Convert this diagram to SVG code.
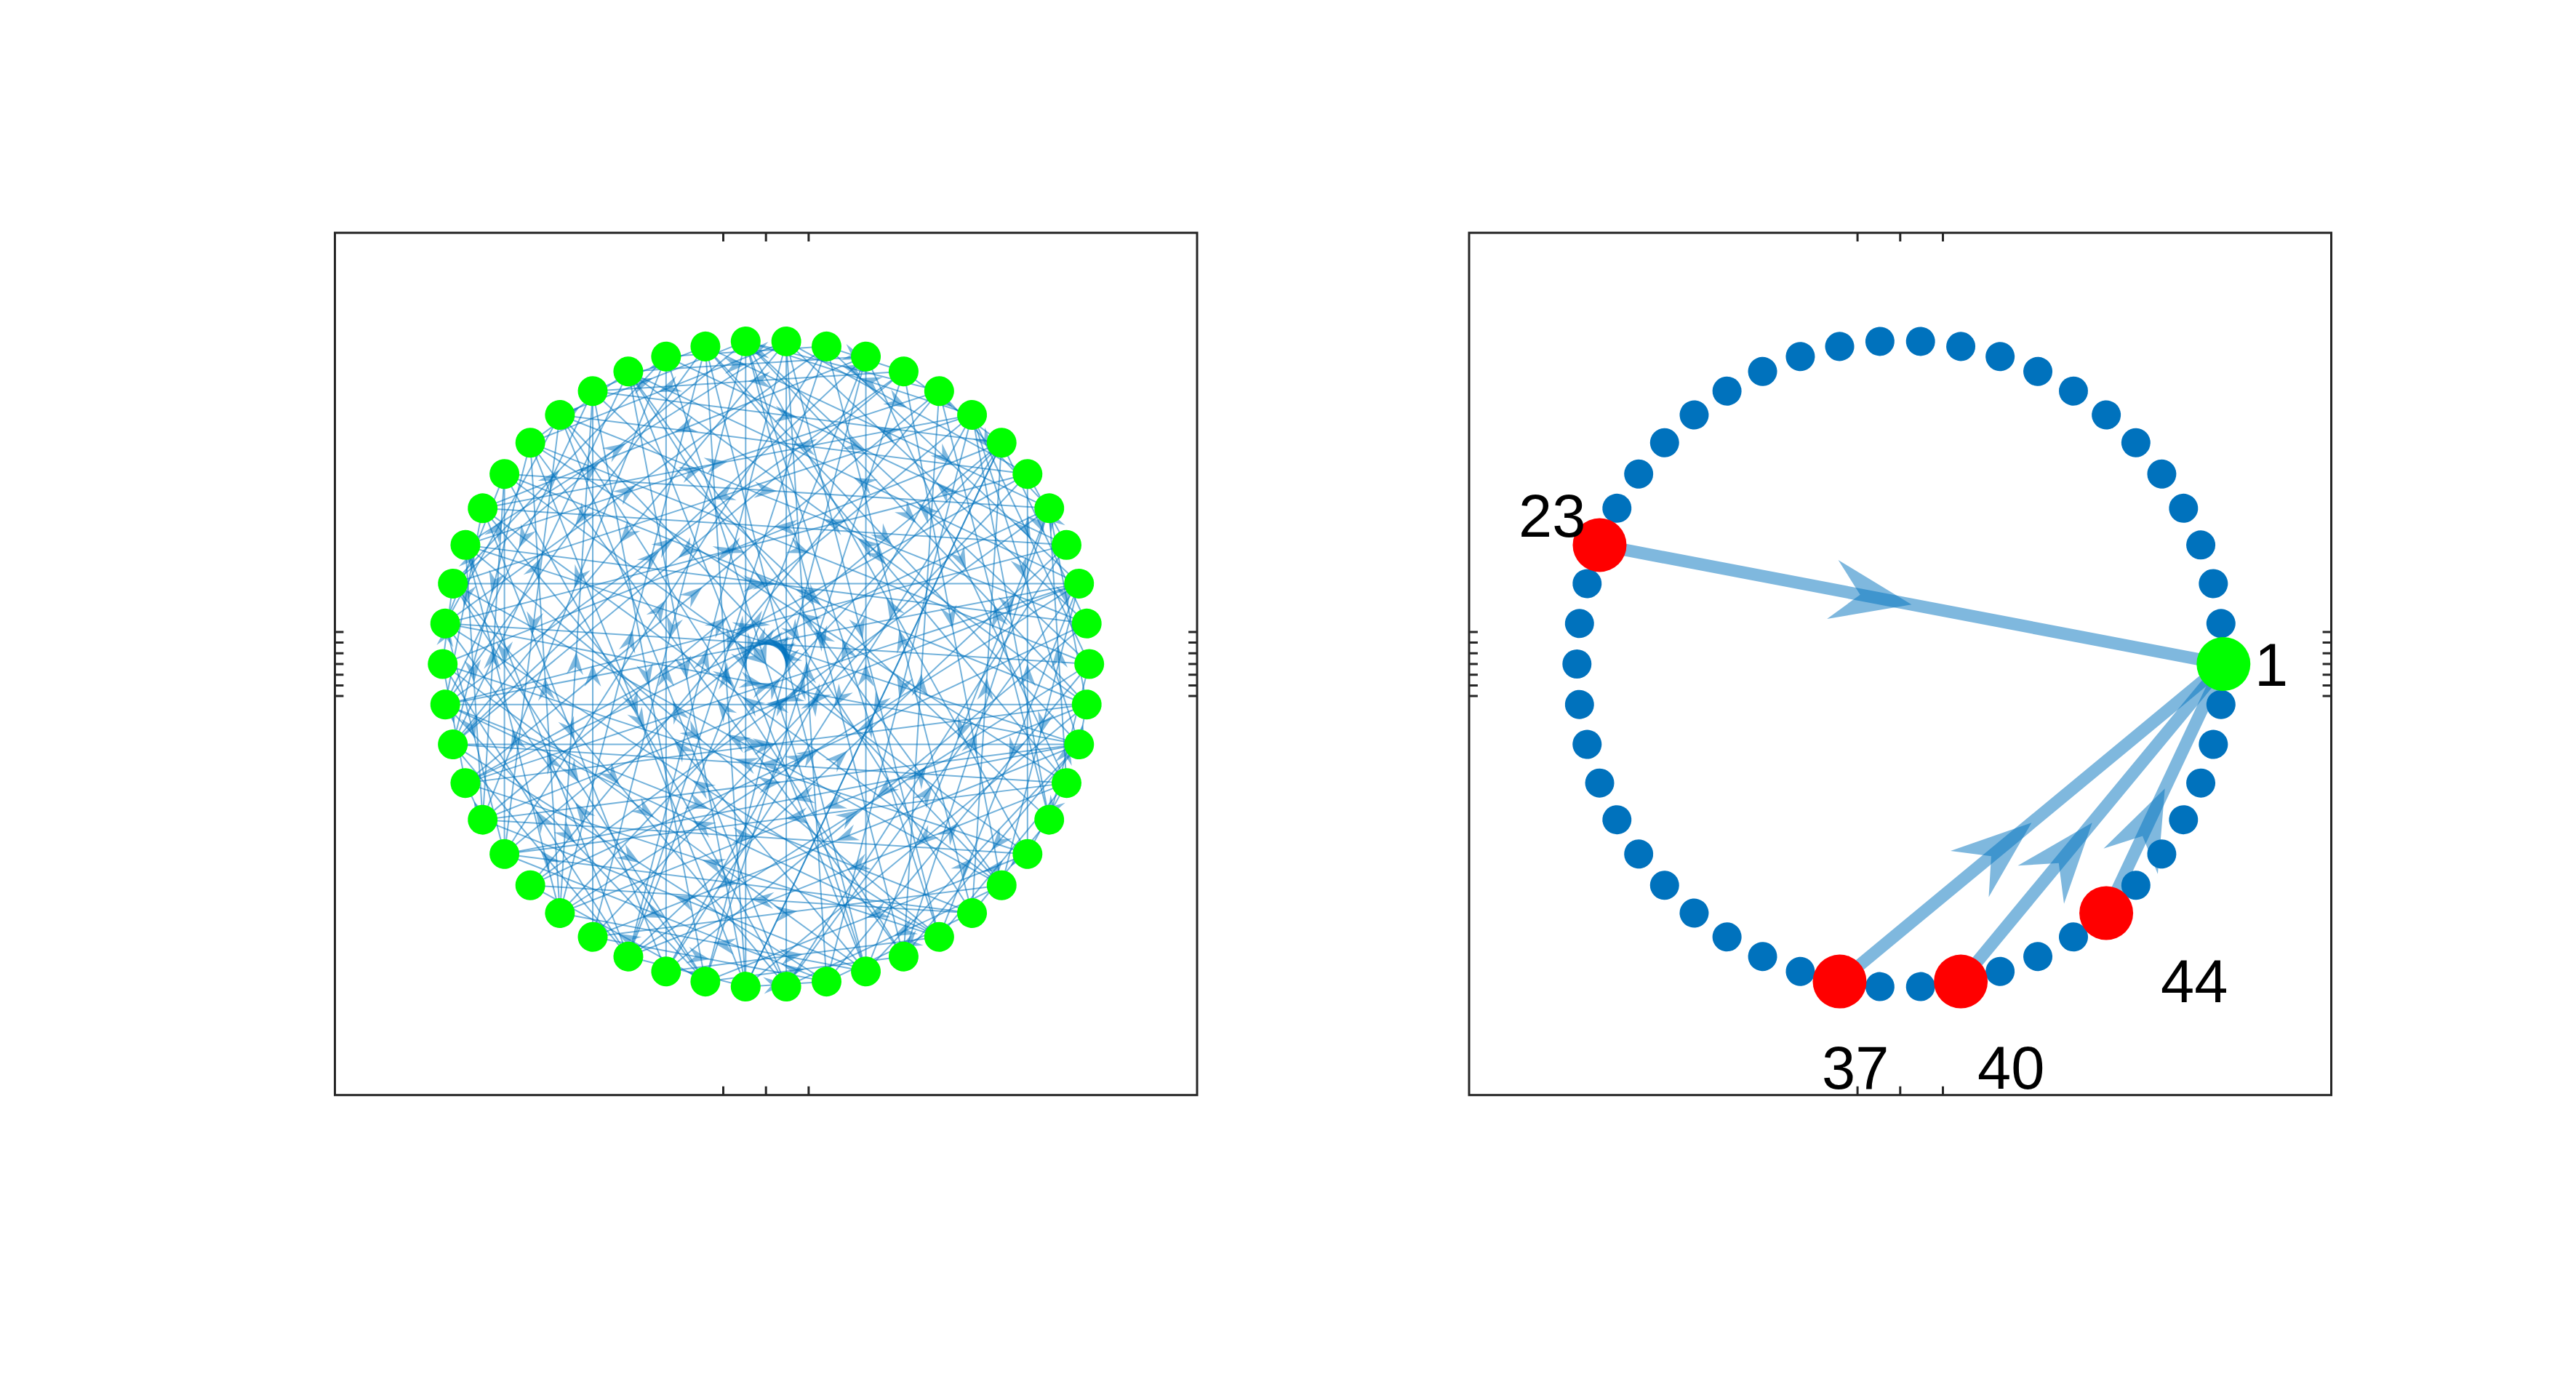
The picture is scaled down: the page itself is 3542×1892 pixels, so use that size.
<svg xmlns="http://www.w3.org/2000/svg" xmlns:xlink="http://www.w3.org/1999/xlink" width="3542" height="1892" viewBox="0 0 3542 1892">
<style>
.ax{fill:none;stroke:#262626;stroke-width:3}
.tk{fill:none;stroke:#262626;stroke-width:3}
.e{stroke:#0072BD;stroke-opacity:.55;stroke-width:2;fill:none}
.h{fill:#0072BD;fill-opacity:.5;stroke:none}
.g{fill:#00FF00}
.b{fill:#0072BD}
.r{fill:#FF0000}
.E{stroke:#0072BD;stroke-opacity:.5;stroke-width:17;fill:none}
.H{fill:#0072BD;fill-opacity:.5;stroke:none}
.t{font-family:"Liberation Sans",Arial,Helvetica,sans-serif;font-size:83px;fill:#000}
</style>
<defs>
<path id="hu" class="h" d="M0,0 L11.5,31 L0,20 L-11.5,31 Z"/>
<path id="hd" class="h" d="M0,0 L11.5,-31 L0,-20 L-11.5,-31 Z"/>
<polygon id="HA" class="H" points="0,0 -110.5,-41.2 -72,0 -110.5,41.2"/>
<g id="a1" transform="rotate(-3.6)"><line class="e" x1="443.62" y1="27.91" x2="443.62" y2="-27.91"/><use href="#hu" x="443.62"/></g>
<g id="b1" transform="rotate(-3.6)"><line class="e" x1="443.62" y1="27.91" x2="443.62" y2="-27.91"/><use href="#hd" x="443.62"/></g>
<g id="a2" transform="rotate(-7.2)"><line class="e" x1="441" y1="55.71" x2="441" y2="-55.71"/><use href="#hu" x="441"/></g>
<g id="b2" transform="rotate(-7.2)"><line class="e" x1="441" y1="55.71" x2="441" y2="-55.71"/><use href="#hd" x="441"/></g>
<g id="a3" transform="rotate(-10.8)"><line class="e" x1="436.63" y1="83.29" x2="436.63" y2="-83.29"/><use href="#hu" x="436.63"/></g>
<g id="b3" transform="rotate(-10.8)"><line class="e" x1="436.63" y1="83.29" x2="436.63" y2="-83.29"/><use href="#hd" x="436.63"/></g>
<g id="a4" transform="rotate(-14.4)"><line class="e" x1="430.54" y1="110.54" x2="430.54" y2="-110.54"/><use href="#hu" x="430.54"/></g>
<g id="b4" transform="rotate(-14.4)"><line class="e" x1="430.54" y1="110.54" x2="430.54" y2="-110.54"/><use href="#hd" x="430.54"/></g>
<g id="a5" transform="rotate(-18)"><line class="e" x1="422.74" y1="137.36" x2="422.74" y2="-137.36"/><use href="#hu" x="422.74"/></g>
<g id="b5" transform="rotate(-18)"><line class="e" x1="422.74" y1="137.36" x2="422.74" y2="-137.36"/><use href="#hd" x="422.74"/></g>
<g id="a6" transform="rotate(-21.6)"><line class="e" x1="413.28" y1="163.63" x2="413.28" y2="-163.63"/><use href="#hu" x="413.28"/></g>
<g id="b6" transform="rotate(-21.6)"><line class="e" x1="413.28" y1="163.63" x2="413.28" y2="-163.63"/><use href="#hd" x="413.28"/></g>
<g id="a7" transform="rotate(-25.2)"><line class="e" x1="402.2" y1="189.26" x2="402.2" y2="-189.26"/><use href="#hu" x="402.2"/></g>
<g id="b7" transform="rotate(-25.2)"><line class="e" x1="402.2" y1="189.26" x2="402.2" y2="-189.26"/><use href="#hd" x="402.2"/></g>
<g id="a8" transform="rotate(-28.8)"><line class="e" x1="389.52" y1="214.14" x2="389.52" y2="-214.14"/><use href="#hu" x="389.52"/></g>
<g id="b8" transform="rotate(-28.8)"><line class="e" x1="389.52" y1="214.14" x2="389.52" y2="-214.14"/><use href="#hd" x="389.52"/></g>
<g id="a9" transform="rotate(-32.4)"><line class="e" x1="375.3" y1="238.17" x2="375.3" y2="-238.17"/><use href="#hu" x="375.3"/></g>
<g id="b9" transform="rotate(-32.4)"><line class="e" x1="375.3" y1="238.17" x2="375.3" y2="-238.17"/><use href="#hd" x="375.3"/></g>
<g id="a10" transform="rotate(-36)"><line class="e" x1="359.6" y1="261.27" x2="359.6" y2="-261.27"/><use href="#hu" x="359.6"/></g>
<g id="b10" transform="rotate(-36)"><line class="e" x1="359.6" y1="261.27" x2="359.6" y2="-261.27"/><use href="#hd" x="359.6"/></g>
<g id="a11" transform="rotate(-39.6)"><line class="e" x1="342.49" y1="283.34" x2="342.49" y2="-283.34"/><use href="#hu" x="342.49"/></g>
<g id="b11" transform="rotate(-39.6)"><line class="e" x1="342.49" y1="283.34" x2="342.49" y2="-283.34"/><use href="#hd" x="342.49"/></g>
<g id="a12" transform="rotate(-43.2)"><line class="e" x1="324.03" y1="304.28" x2="324.03" y2="-304.28"/><use href="#hu" x="324.03"/></g>
<g id="b12" transform="rotate(-43.2)"><line class="e" x1="324.03" y1="304.28" x2="324.03" y2="-304.28"/><use href="#hd" x="324.03"/></g>
<g id="a13" transform="rotate(-46.8)"><line class="e" x1="304.28" y1="324.03" x2="304.28" y2="-324.03"/><use href="#hu" x="304.28"/></g>
<g id="b13" transform="rotate(-46.8)"><line class="e" x1="304.28" y1="324.03" x2="304.28" y2="-324.03"/><use href="#hd" x="304.28"/></g>
<g id="a14" transform="rotate(-50.4)"><line class="e" x1="283.34" y1="342.49" x2="283.34" y2="-342.49"/><use href="#hu" x="283.34"/></g>
<g id="b14" transform="rotate(-50.4)"><line class="e" x1="283.34" y1="342.49" x2="283.34" y2="-342.49"/><use href="#hd" x="283.34"/></g>
<g id="a15" transform="rotate(-54)"><line class="e" x1="261.27" y1="359.6" x2="261.27" y2="-359.6"/><use href="#hu" x="261.27"/></g>
<g id="b15" transform="rotate(-54)"><line class="e" x1="261.27" y1="359.6" x2="261.27" y2="-359.6"/><use href="#hd" x="261.27"/></g>
<g id="a16" transform="rotate(-57.6)"><line class="e" x1="238.17" y1="375.3" x2="238.17" y2="-375.3"/><use href="#hu" x="238.17"/></g>
<g id="b16" transform="rotate(-57.6)"><line class="e" x1="238.17" y1="375.3" x2="238.17" y2="-375.3"/><use href="#hd" x="238.17"/></g>
<g id="a17" transform="rotate(-61.2)"><line class="e" x1="214.14" y1="389.52" x2="214.14" y2="-389.52"/><use href="#hu" x="214.14"/></g>
<g id="b17" transform="rotate(-61.2)"><line class="e" x1="214.14" y1="389.52" x2="214.14" y2="-389.52"/><use href="#hd" x="214.14"/></g>
<g id="a18" transform="rotate(-64.8)"><line class="e" x1="189.26" y1="402.2" x2="189.26" y2="-402.2"/><use href="#hu" x="189.26"/></g>
<g id="b18" transform="rotate(-64.8)"><line class="e" x1="189.26" y1="402.2" x2="189.26" y2="-402.2"/><use href="#hd" x="189.26"/></g>
<g id="a19" transform="rotate(-68.4)"><line class="e" x1="163.63" y1="413.28" x2="163.63" y2="-413.28"/><use href="#hu" x="163.63"/></g>
<g id="b19" transform="rotate(-68.4)"><line class="e" x1="163.63" y1="413.28" x2="163.63" y2="-413.28"/><use href="#hd" x="163.63"/></g>
<g id="a20" transform="rotate(-72)"><line class="e" x1="137.36" y1="422.74" x2="137.36" y2="-422.74"/><use href="#hu" x="137.36"/></g>
<g id="b20" transform="rotate(-72)"><line class="e" x1="137.36" y1="422.74" x2="137.36" y2="-422.74"/><use href="#hd" x="137.36"/></g>
<g id="a21" transform="rotate(-75.6)"><line class="e" x1="110.54" y1="430.54" x2="110.54" y2="-430.54"/><use href="#hu" x="110.54"/></g>
<g id="b21" transform="rotate(-75.6)"><line class="e" x1="110.54" y1="430.54" x2="110.54" y2="-430.54"/><use href="#hd" x="110.54"/></g>
<g id="a22" transform="rotate(-79.2)"><line class="e" x1="83.29" y1="436.63" x2="83.29" y2="-436.63"/><use href="#hu" x="83.29"/></g>
<g id="b22" transform="rotate(-79.2)"><line class="e" x1="83.29" y1="436.63" x2="83.29" y2="-436.63"/><use href="#hd" x="83.29"/></g>
<g id="a23" transform="rotate(-82.8)"><line class="e" x1="55.71" y1="441" x2="55.71" y2="-441"/><use href="#hu" x="55.71"/></g>
<g id="b23" transform="rotate(-82.8)"><line class="e" x1="55.71" y1="441" x2="55.71" y2="-441"/><use href="#hd" x="55.71"/></g>
<g id="a24" transform="rotate(-86.4)"><line class="e" x1="27.91" y1="443.62" x2="27.91" y2="-443.62"/><use href="#hu" x="27.91"/></g>
<g id="b24" transform="rotate(-86.4)"><line class="e" x1="27.91" y1="443.62" x2="27.91" y2="-443.62"/><use href="#hd" x="27.91"/></g>
<g id="a25" transform="rotate(-90)"><line class="e" x1="0" y1="444.5" x2="0" y2="-444.5"/><use href="#hu" x="0"/></g>
<g id="b25" transform="rotate(-90)"><line class="e" x1="0" y1="444.5" x2="0" y2="-444.5"/><use href="#hd" x="0"/></g>
</defs>
<rect width="3542" height="1892" fill="#fff"/>

<!-- LEFT AXES -->
<g id="axes-left">
<rect class="ax" x="460.5" y="320.1" width="1185.5" height="1185.6"/>
<path class="tk" d="M994.5,320.1v11.9M1053.2,320.1v11.9M1111.9,320.1v11.9M994.5,1505.7v-11.9M1053.2,1505.7v-11.9M1111.9,1505.7v-11.9M460.5,868.9h11.9M460.5,883.6h11.9M460.5,898.3h11.9M460.5,913h11.9M460.5,927.7h11.9M460.5,942.4h11.9M460.5,957.1h11.9M1646,868.9h-11.9M1646,883.6h-11.9M1646,898.3h-11.9M1646,913h-11.9M1646,927.7h-11.9M1646,942.4h-11.9M1646,957.1h-11.9"/>
</g>

<g id="connectors-left" transform="translate(1053.2,913)">
<g transform="rotate(0)"><use href="#a24"/><use href="#b7"/><use href="#a13"/><use href="#b19"/></g>
<g transform="rotate(-7.2)"><use href="#b21"/><use href="#a11"/><use href="#a17"/><use href="#b5"/></g>
<g transform="rotate(-14.4)"><use href="#a24"/><use href="#b9"/><use href="#a14"/><use href="#b21"/></g>
<g transform="rotate(-21.6)"><use href="#b23"/><use href="#a2"/><use href="#a18"/><use href="#b12"/></g>
<g transform="rotate(-28.8)"><use href="#a24"/><use href="#b16"/><use href="#a10"/><use href="#b4"/></g>
<g transform="rotate(-36)"><use href="#b19"/><use href="#a13"/><use href="#a23"/><use href="#b7"/></g>
<g transform="rotate(-43.2)"><use href="#a19"/><use href="#b3"/><use href="#a24"/><use href="#b11"/></g>
<g transform="rotate(-50.4)"><use href="#b22"/><use href="#a6"/><use href="#a16"/><use href="#b14"/></g>
<g transform="rotate(-57.6)"><use href="#a23"/><use href="#b14"/><use href="#a5"/><use href="#b20"/></g>
<g transform="rotate(-64.8)"><use href="#b17"/><use href="#a8"/><use href="#a18"/><use href="#b2"/></g>
<g transform="rotate(-72)"><use href="#a24"/><use href="#b17"/><use href="#a11"/><use href="#b6"/></g>
<g transform="rotate(-79.2)"><use href="#b19"/><use href="#a4"/><use href="#a23"/><use href="#b13"/></g>
<g transform="rotate(-86.4)"><use href="#a15"/><use href="#b10"/><use href="#a7"/><use href="#b22"/></g>
<g transform="rotate(-93.6)"><use href="#b10"/><use href="#a24"/><use href="#a20"/><use href="#b5"/></g>
<g transform="rotate(-100.8)"><use href="#a12"/><use href="#b23"/><use href="#a3"/><use href="#b18"/></g>
<g transform="rotate(-108)"><use href="#b8"/><use href="#a25"/><use href="#a14"/><use href="#b20"/></g>
<g transform="rotate(-115.2)"><use href="#a21"/><use href="#b11"/><use href="#a24"/><use href="#b3"/></g>
<g transform="rotate(-122.4)"><use href="#b16"/><use href="#a9"/><use href="#a19"/><use href="#b15"/></g>
<g transform="rotate(-129.6)"><use href="#a23"/><use href="#b6"/><use href="#a12"/><use href="#b20"/></g>
<g transform="rotate(-136.8)"><use href="#b13"/><use href="#a18"/><use href="#a8"/><use href="#b22"/></g>
<g transform="rotate(-144)"><use href="#a18"/><use href="#b9"/><use href="#a10"/><use href="#b4"/></g>
<g transform="rotate(-151.2)"><use href="#b23"/><use href="#a14"/><use href="#a5"/><use href="#b19"/></g>
<g transform="rotate(-158.4)"><use href="#a7"/><use href="#b12"/><use href="#a20"/><use href="#b10"/></g>
<g transform="rotate(-165.6)"><use href="#b2"/><use href="#a15"/><use href="#a13"/><use href="#b21"/></g>
<g transform="rotate(-172.8)"><use href="#a24"/><use href="#b18"/><use href="#a6"/><use href="#b12"/></g>
<g transform="rotate(-180)"><use href="#b20"/><use href="#a15"/><use href="#a3"/><use href="#b9"/></g>
<g transform="rotate(-187.2)"><use href="#a10"/><use href="#b23"/><use href="#a17"/><use href="#b16"/></g>
<g transform="rotate(-194.4)"><use href="#b20"/><use href="#a21"/><use href="#a12"/><use href="#b7"/></g>
<g transform="rotate(-201.6)"><use href="#a24"/><use href="#b1"/><use href="#a21"/><use href="#b14"/></g>
<g transform="rotate(-208.8)"><use href="#b11"/><use href="#a19"/><use href="#a16"/><use href="#b23"/></g>
<g transform="rotate(-216)"><use href="#a13"/><use href="#b17"/><use href="#a9"/><use href="#b18"/></g>
<g transform="rotate(-223.2)"><use href="#b5"/><use href="#a23"/><use href="#a20"/><use href="#b12"/></g>
<g transform="rotate(-230.4)"><use href="#a20"/><use href="#b8"/><use href="#a24"/><use href="#b17"/></g>
<g transform="rotate(-237.6)"><use href="#b15"/><use href="#a11"/><use href="#a6"/><use href="#b22"/></g>
<g transform="rotate(-244.8)"><use href="#a16"/><use href="#b13"/><use href="#a19"/><use href="#b3"/></g>
<g transform="rotate(-252)"><use href="#b16"/><use href="#a22"/><use href="#a7"/><use href="#b21"/></g>
<g transform="rotate(-259.2)"><use href="#a5"/><use href="#b24"/><use href="#a23"/><use href="#b9"/></g>
<g transform="rotate(-266.4)"><use href="#b12"/><use href="#a19"/><use href="#a2"/><use href="#b19"/></g>
<g transform="rotate(-273.6)"><use href="#a14"/><use href="#b6"/><use href="#a15"/><use href="#b24"/></g>
<g transform="rotate(-280.8)"><use href="#b18"/><use href="#a23"/><use href="#a11"/><use href="#b4"/></g>
<g transform="rotate(-288)"><use href="#a8"/><use href="#b24"/><use href="#a20"/><use href="#b14"/></g>
<g transform="rotate(-295.2)"><use href="#b22"/><use href="#a17"/><use href="#a13"/><use href="#b7"/></g>
<g transform="rotate(-302.4)"><use href="#a21"/><use href="#b10"/><use href="#a5"/><use href="#b20"/></g>
<g transform="rotate(-309.6)"><use href="#b3"/><use href="#a18"/><use href="#a13"/><use href="#b23"/></g>
<g transform="rotate(-316.8)"><use href="#a22"/><use href="#b15"/><use href="#a24"/><use href="#b8"/></g>
<g transform="rotate(-324)"><use href="#b25"/><use href="#a10"/><use href="#a18"/><use href="#b2"/></g>
<g transform="rotate(-331.2)"><use href="#a4"/><use href="#b21"/><use href="#a12"/><use href="#b11"/></g>
<g transform="rotate(-338.4)"><use href="#b17"/><use href="#a7"/><use href="#a22"/><use href="#b13"/></g>
<g transform="rotate(-345.6)"><use href="#a24"/><use href="#b9"/><use href="#a1"/><use href="#b16"/></g>
<g transform="rotate(-352.8)"><use href="#b14"/><use href="#a17"/><use href="#a21"/><use href="#b5"/></g>
</g>

<g id="nodes-left" transform="translate(1053.2,913)">
<g id="L1"><circle class="g" cx="444.5" cy="0" r="20.5"/></g>
<g id="L2"><circle class="g" cx="444.5" cy="0" r="20.5" transform="rotate(-7.2)"/></g>
<g id="L3"><circle class="g" cx="444.5" cy="0" r="20.5" transform="rotate(-14.4)"/></g>
<g id="L4"><circle class="g" cx="444.5" cy="0" r="20.5" transform="rotate(-21.6)"/></g>
<g id="L5"><circle class="g" cx="444.5" cy="0" r="20.5" transform="rotate(-28.8)"/></g>
<g id="L6"><circle class="g" cx="444.5" cy="0" r="20.5" transform="rotate(-36)"/></g>
<g id="L7"><circle class="g" cx="444.5" cy="0" r="20.5" transform="rotate(-43.2)"/></g>
<g id="L8"><circle class="g" cx="444.5" cy="0" r="20.5" transform="rotate(-50.4)"/></g>
<g id="L9"><circle class="g" cx="444.5" cy="0" r="20.5" transform="rotate(-57.6)"/></g>
<g id="L10"><circle class="g" cx="444.5" cy="0" r="20.5" transform="rotate(-64.8)"/></g>
<g id="L11"><circle class="g" cx="444.5" cy="0" r="20.5" transform="rotate(-72)"/></g>
<g id="L12"><circle class="g" cx="444.5" cy="0" r="20.5" transform="rotate(-79.2)"/></g>
<g id="L13"><circle class="g" cx="444.5" cy="0" r="20.5" transform="rotate(-86.4)"/></g>
<g id="L14"><circle class="g" cx="444.5" cy="0" r="20.5" transform="rotate(-93.6)"/></g>
<g id="L15"><circle class="g" cx="444.5" cy="0" r="20.5" transform="rotate(-100.8)"/></g>
<g id="L16"><circle class="g" cx="444.5" cy="0" r="20.5" transform="rotate(-108)"/></g>
<g id="L17"><circle class="g" cx="444.5" cy="0" r="20.5" transform="rotate(-115.2)"/></g>
<g id="L18"><circle class="g" cx="444.5" cy="0" r="20.5" transform="rotate(-122.4)"/></g>
<g id="L19"><circle class="g" cx="444.5" cy="0" r="20.5" transform="rotate(-129.6)"/></g>
<g id="L20"><circle class="g" cx="444.5" cy="0" r="20.5" transform="rotate(-136.8)"/></g>
<g id="L21"><circle class="g" cx="444.5" cy="0" r="20.5" transform="rotate(-144)"/></g>
<g id="L22"><circle class="g" cx="444.5" cy="0" r="20.5" transform="rotate(-151.2)"/></g>
<g id="L23"><circle class="g" cx="444.5" cy="0" r="20.5" transform="rotate(-158.4)"/></g>
<g id="L24"><circle class="g" cx="444.5" cy="0" r="20.5" transform="rotate(-165.6)"/></g>
<g id="L25"><circle class="g" cx="444.5" cy="0" r="20.5" transform="rotate(-172.8)"/></g>
<g id="L26"><circle class="g" cx="444.5" cy="0" r="20.5" transform="rotate(-180)"/></g>
<g id="L27"><circle class="g" cx="444.5" cy="0" r="20.5" transform="rotate(-187.2)"/></g>
<g id="L28"><circle class="g" cx="444.5" cy="0" r="20.5" transform="rotate(-194.4)"/></g>
<g id="L29"><circle class="g" cx="444.5" cy="0" r="20.5" transform="rotate(-201.6)"/></g>
<g id="L30"><circle class="g" cx="444.5" cy="0" r="20.5" transform="rotate(-208.8)"/></g>
<g id="L31"><circle class="g" cx="444.5" cy="0" r="20.5" transform="rotate(-216)"/></g>
<g id="L32"><circle class="g" cx="444.5" cy="0" r="20.5" transform="rotate(-223.2)"/></g>
<g id="L33"><circle class="g" cx="444.5" cy="0" r="20.5" transform="rotate(-230.4)"/></g>
<g id="L34"><circle class="g" cx="444.5" cy="0" r="20.5" transform="rotate(-237.6)"/></g>
<g id="L35"><circle class="g" cx="444.5" cy="0" r="20.5" transform="rotate(-244.8)"/></g>
<g id="L36"><circle class="g" cx="444.5" cy="0" r="20.5" transform="rotate(-252)"/></g>
<g id="L37"><circle class="g" cx="444.5" cy="0" r="20.5" transform="rotate(-259.2)"/></g>
<g id="L38"><circle class="g" cx="444.5" cy="0" r="20.5" transform="rotate(-266.4)"/></g>
<g id="L39"><circle class="g" cx="444.5" cy="0" r="20.5" transform="rotate(-273.6)"/></g>
<g id="L40"><circle class="g" cx="444.5" cy="0" r="20.5" transform="rotate(-280.8)"/></g>
<g id="L41"><circle class="g" cx="444.5" cy="0" r="20.5" transform="rotate(-288)"/></g>
<g id="L42"><circle class="g" cx="444.5" cy="0" r="20.5" transform="rotate(-295.2)"/></g>
<g id="L43"><circle class="g" cx="444.5" cy="0" r="20.5" transform="rotate(-302.4)"/></g>
<g id="L44"><circle class="g" cx="444.5" cy="0" r="20.5" transform="rotate(-309.6)"/></g>
<g id="L45"><circle class="g" cx="444.5" cy="0" r="20.5" transform="rotate(-316.8)"/></g>
<g id="L46"><circle class="g" cx="444.5" cy="0" r="20.5" transform="rotate(-324)"/></g>
<g id="L47"><circle class="g" cx="444.5" cy="0" r="20.5" transform="rotate(-331.2)"/></g>
<g id="L48"><circle class="g" cx="444.5" cy="0" r="20.5" transform="rotate(-338.4)"/></g>
<g id="L49"><circle class="g" cx="444.5" cy="0" r="20.5" transform="rotate(-345.6)"/></g>
<g id="L50"><circle class="g" cx="444.5" cy="0" r="20.5" transform="rotate(-352.8)"/></g>
</g>

<!-- RIGHT AXES -->
<g id="axes-right">
<rect class="ax" x="2020" y="320.1" width="1185.5" height="1185.6"/>
<path class="tk" d="M2554.1,320.1v11.9M2612.8,320.1v11.9M2671.5,320.1v11.9M2554.1,1505.7v-11.9M2612.8,1505.7v-11.9M2671.5,1505.7v-11.9M2020,868.9h11.9M2020,883.6h11.9M2020,898.3h11.9M2020,913h11.9M2020,927.7h11.9M2020,942.4h11.9M2020,957.1h11.9M3205.5,868.9h-11.9M3205.5,883.6h-11.9M3205.5,898.3h-11.9M3205.5,913h-11.9M3205.5,927.7h-11.9M3205.5,942.4h-11.9M3205.5,957.1h-11.9"/>
</g>

<g id="connectors-right">
<line class="E" x1="2199.5" y1="749.4" x2="3057.3" y2="913"/>
<use href="#HA" transform="translate(2628.4,831.2) rotate(10.8)"/>
<line class="E" x1="2529.5" y1="1349.6" x2="3057.3" y2="913"/>
<use href="#HA" transform="translate(2793.4,1131.3) rotate(-39.6)"/>
<line class="E" x1="2696.1" y1="1349.6" x2="3057.3" y2="913"/>
<use href="#HA" transform="translate(2876.7,1131.3) rotate(-50.4)"/>
<line class="E" x1="2896.1" y1="1255.5" x2="3057.3" y2="913"/>
<use href="#HA" transform="translate(2976.7,1084.25) rotate(-64.8)"/>
</g>

<g id="nodes-right" transform="translate(2612.8,913)">
<g id="R2"><circle class="b" cx="444.5" cy="0" r="20" transform="rotate(-7.2)"/></g>
<g id="R3"><circle class="b" cx="444.5" cy="0" r="20" transform="rotate(-14.4)"/></g>
<g id="R4"><circle class="b" cx="444.5" cy="0" r="20" transform="rotate(-21.6)"/></g>
<g id="R5"><circle class="b" cx="444.5" cy="0" r="20" transform="rotate(-28.8)"/></g>
<g id="R6"><circle class="b" cx="444.5" cy="0" r="20" transform="rotate(-36)"/></g>
<g id="R7"><circle class="b" cx="444.5" cy="0" r="20" transform="rotate(-43.2)"/></g>
<g id="R8"><circle class="b" cx="444.5" cy="0" r="20" transform="rotate(-50.4)"/></g>
<g id="R9"><circle class="b" cx="444.5" cy="0" r="20" transform="rotate(-57.6)"/></g>
<g id="R10"><circle class="b" cx="444.5" cy="0" r="20" transform="rotate(-64.8)"/></g>
<g id="R11"><circle class="b" cx="444.5" cy="0" r="20" transform="rotate(-72)"/></g>
<g id="R12"><circle class="b" cx="444.5" cy="0" r="20" transform="rotate(-79.2)"/></g>
<g id="R13"><circle class="b" cx="444.5" cy="0" r="20" transform="rotate(-86.4)"/></g>
<g id="R14"><circle class="b" cx="444.5" cy="0" r="20" transform="rotate(-93.6)"/></g>
<g id="R15"><circle class="b" cx="444.5" cy="0" r="20" transform="rotate(-100.8)"/></g>
<g id="R16"><circle class="b" cx="444.5" cy="0" r="20" transform="rotate(-108)"/></g>
<g id="R17"><circle class="b" cx="444.5" cy="0" r="20" transform="rotate(-115.2)"/></g>
<g id="R18"><circle class="b" cx="444.5" cy="0" r="20" transform="rotate(-122.4)"/></g>
<g id="R19"><circle class="b" cx="444.5" cy="0" r="20" transform="rotate(-129.6)"/></g>
<g id="R20"><circle class="b" cx="444.5" cy="0" r="20" transform="rotate(-136.8)"/></g>
<g id="R21"><circle class="b" cx="444.5" cy="0" r="20" transform="rotate(-144)"/></g>
<g id="R22"><circle class="b" cx="444.5" cy="0" r="20" transform="rotate(-151.2)"/></g>
<g id="R24"><circle class="b" cx="444.5" cy="0" r="20" transform="rotate(-165.6)"/></g>
<g id="R25"><circle class="b" cx="444.5" cy="0" r="20" transform="rotate(-172.8)"/></g>
<g id="R26"><circle class="b" cx="444.5" cy="0" r="20" transform="rotate(-180)"/></g>
<g id="R27"><circle class="b" cx="444.5" cy="0" r="20" transform="rotate(-187.2)"/></g>
<g id="R28"><circle class="b" cx="444.5" cy="0" r="20" transform="rotate(-194.4)"/></g>
<g id="R29"><circle class="b" cx="444.5" cy="0" r="20" transform="rotate(-201.6)"/></g>
<g id="R30"><circle class="b" cx="444.5" cy="0" r="20" transform="rotate(-208.8)"/></g>
<g id="R31"><circle class="b" cx="444.5" cy="0" r="20" transform="rotate(-216)"/></g>
<g id="R32"><circle class="b" cx="444.5" cy="0" r="20" transform="rotate(-223.2)"/></g>
<g id="R33"><circle class="b" cx="444.5" cy="0" r="20" transform="rotate(-230.4)"/></g>
<g id="R34"><circle class="b" cx="444.5" cy="0" r="20" transform="rotate(-237.6)"/></g>
<g id="R35"><circle class="b" cx="444.5" cy="0" r="20" transform="rotate(-244.8)"/></g>
<g id="R36"><circle class="b" cx="444.5" cy="0" r="20" transform="rotate(-252)"/></g>
<g id="R38"><circle class="b" cx="444.5" cy="0" r="20" transform="rotate(-266.4)"/></g>
<g id="R39"><circle class="b" cx="444.5" cy="0" r="20" transform="rotate(-273.6)"/></g>
<g id="R41"><circle class="b" cx="444.5" cy="0" r="20" transform="rotate(-288)"/></g>
<g id="R42"><circle class="b" cx="444.5" cy="0" r="20" transform="rotate(-295.2)"/></g>
<g id="R43"><circle class="b" cx="444.5" cy="0" r="20" transform="rotate(-302.4)"/></g>
<g id="R45"><circle class="b" cx="444.5" cy="0" r="20" transform="rotate(-316.8)"/></g>
<g id="R46"><circle class="b" cx="444.5" cy="0" r="20" transform="rotate(-324)"/></g>
<g id="R47"><circle class="b" cx="444.5" cy="0" r="20" transform="rotate(-331.2)"/></g>
<g id="R48"><circle class="b" cx="444.5" cy="0" r="20" transform="rotate(-338.4)"/></g>
<g id="R49"><circle class="b" cx="444.5" cy="0" r="20" transform="rotate(-345.6)"/></g>
<g id="R50"><circle class="b" cx="444.5" cy="0" r="20" transform="rotate(-352.8)"/></g>
</g>

<g id="R1"><circle class="g" cx="3057.3" cy="913" r="37"/><text class="t" x="3100" y="943">1</text></g>
<g id="R23"><circle class="r" cx="2199.5" cy="749.4" r="37"/><text class="t" x="2088" y="738">23</text></g>
<g id="R37"><circle class="r" cx="2529.5" cy="1349.6" r="37"/><text class="t" x="2505" y="1497">37</text></g>
<g id="R40"><circle class="r" cx="2696.1" cy="1349.6" r="37"/><text class="t" x="2719" y="1497">40</text></g>
<g id="R44"><circle class="r" cx="2896.1" cy="1255.5" r="37"/><text class="t" x="2971" y="1378">44</text></g>
</svg>
